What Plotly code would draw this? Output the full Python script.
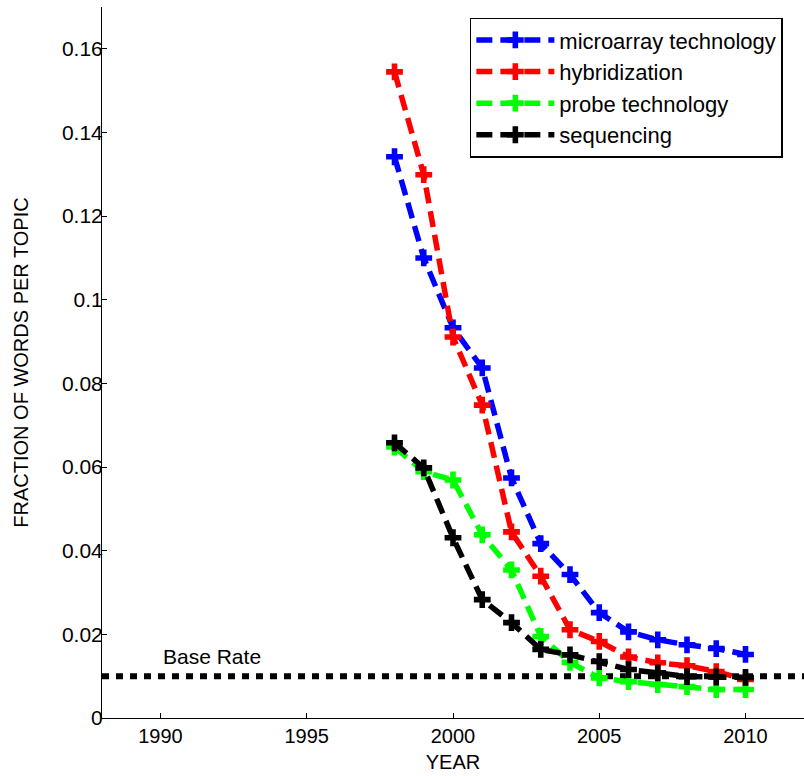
import plotly.graph_objects as go

years = list(range(1998, 2011))
microarray = [0.1342, 0.1100, 0.0933, 0.0837, 0.0574, 0.0417, 0.0343, 0.0252, 0.0206, 0.0187, 0.0175, 0.0166, 0.0152]
hybridization = [0.1545, 0.1299, 0.0911, 0.0748, 0.0445, 0.0339, 0.0211, 0.0183, 0.0146, 0.0132, 0.0125, 0.0111, 0.0092]
probe = [0.0648, 0.0589, 0.0569, 0.0438, 0.0354, 0.0195, 0.0133, 0.0096, 0.0087, 0.0080, 0.0075, 0.0068, 0.0068]
sequencing = [0.0658, 0.0598, 0.0431, 0.0283, 0.0228, 0.0164, 0.0151, 0.0135, 0.0116, 0.0108, 0.0099, 0.0098, 0.0097]
series_names = ["microarray technology", "hybridization", "probe technology", "sequencing"]
series_colors = ["#0000ff", "#ff0000", "#00ff00", "#000000"]
base_rate = 0.01
base_label = "Base Rate"
y_ticks = [0, 0.02, 0.04, 0.06, 0.08, 0.1, 0.12, 0.14, 0.16]
y_ticktext = ["0", "0.02", "0.04", "0.06", "0.08", "0.1", "0.12", "0.14", "0.16"]
x_ticks = [1990, 1995, 2000, 2005, 2010]

FONT = "Liberation Sans, Arial, Helvetica, sans-serif"

fig = go.Figure()

fig.add_shape(type="line", xref="paper", x0=0, x1=1, yref="y", y0=base_rate, y1=base_rate,
              line=dict(color="black", width=6, dash="7px,7px"), layer="below")

for i, (name, vals, col) in enumerate(zip(series_names, [microarray, hybridization, probe, sequencing], series_colors)):
    fig.add_trace(go.Scatter(
        x=years, y=vals, name=name, mode="lines+markers",
        line=dict(color=col, width=5.5, dash="16px,8px"),
        marker=dict(symbol="cross", size=14, color=col),
        legendgroup="g%d" % i,
    ))

fig.add_annotation(x=1990, y=base_rate + 0.0048, xref="x", yref="y", text=base_label,
                   showarrow=False, xanchor="left", yanchor="middle",
                   font=dict(family=FONT, size=21, color="black"))

fig.update_layout(
    width=804, height=776,
    margin=dict(l=102, r=0, t=7, b=58),
    paper_bgcolor="white", plot_bgcolor="white",
    font=dict(family=FONT, size=20, color="black"),
    showlegend=True,
    legend=dict(x=0.524, y=0.985, xanchor="left", yanchor="top",
                bordercolor="black", borderwidth=1.5, bgcolor="white",
                font=dict(family=FONT, size=22, color="black"),
                itemwidth=78, tracegroupgap=1, traceorder="normal"),
    xaxis=dict(range=[1988, 2012], tickvals=x_ticks, ticks="inside", ticklen=5,
               tickcolor="black", showline=True, linecolor="black", linewidth=1,
               showgrid=False, zeroline=False, mirror=False,
               title=dict(text="YEAR", font=dict(size=20), standoff=8),
               tickfont=dict(size=20)),
    yaxis=dict(range=[0, 0.17], tickvals=y_ticks, ticktext=y_ticktext, ticks="inside", ticklen=5,
               tickcolor="black", showline=True, linecolor="black", linewidth=1,
               showgrid=False, zeroline=False, mirror=False, ticklabelstandoff=-6,
               title=dict(text="FRACTION OF WORDS PER TOPIC", font=dict(size=20), standoff=27),
               tickfont=dict(size=21)),
)

fig.write_html("out.html")
